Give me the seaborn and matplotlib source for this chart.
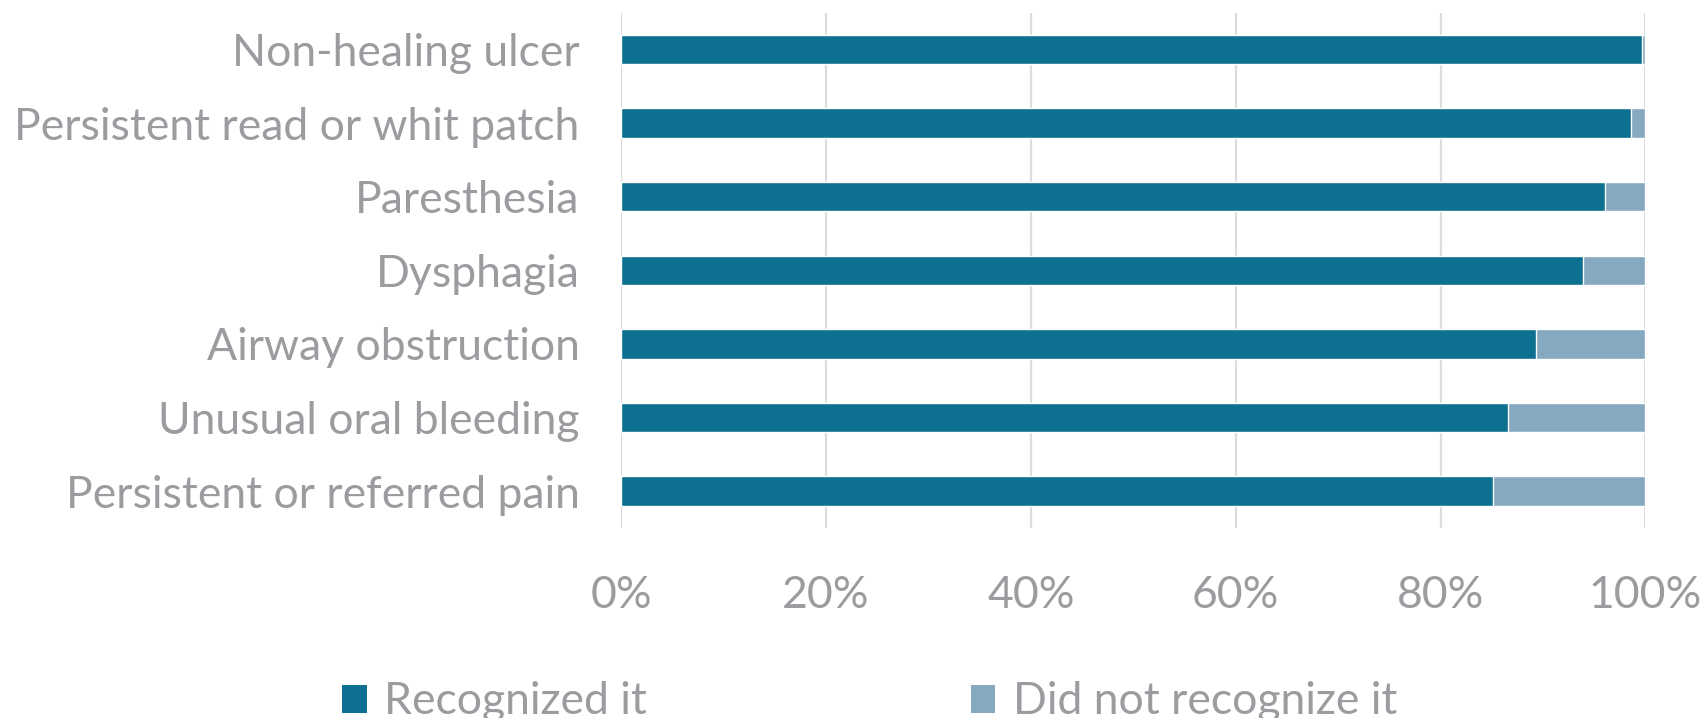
import matplotlib
matplotlib.use("Agg")
import matplotlib.pyplot as plt
from matplotlib.patches import Patch
from matplotlib.ticker import PercentFormatter
import pandas as pd
import seaborn as sns

categories = [
    "Non-healing ulcer",
    "Persistent read or whit patch",
    "Paresthesia",
    "Dysphagia",
    "Airway obstruction",
    "Unusual oral bleeding",
    "Persistent or referred pain",
]
recognized = [99.7, 98.6, 96.0, 93.9, 89.3, 86.6, 85.1]
not_recognized = [0.3, 1.4, 4.0, 6.1, 10.7, 13.4, 14.9]
x_ticks = [0, 20, 40, 60, 80, 100]
series_names = ["Recognized it", "Did not recognize it"]

DARK = "#0E7090"
LIGHT = "#86A9C1"
TEXT = "#9B9BA0"
GRID = "#DCDCDC"

sns.set_theme(style="white")
plt.rcParams["font.family"] = ["Lato", "DejaVu Sans"]
FS = 32

df = pd.DataFrame({
    "category": categories,
    "recognized": recognized,
    "stacked": [r + n for r, n in zip(recognized, not_recognized)],
})

fig = plt.figure(figsize=(17.02, 7.18), dpi=100)
ax = fig.add_axes([0.3649, 0.2646, 0.6019, 0.7177])

# stacked bars: full-length light bar underneath, recognized share on top
sns.barplot(data=df, x="stacked", y="category", orient="h", color=LIGHT,
            width=0.4, saturation=1, ax=ax, zorder=2)
sns.barplot(data=df, x="recognized", y="category", orient="h", color=DARK,
            width=0.4, saturation=1, ax=ax, zorder=3)

ax.set_xlim(0, 100)
ax.set_ylim(len(categories) - 0.5, -0.5)
ax.set_xticks(x_ticks)
ax.xaxis.set_major_formatter(PercentFormatter(decimals=0))
ax.set_xlabel("")
ax.set_ylabel("")
ax.grid(axis="x", color=GRID, linewidth=1.6, zorder=0)
ax.set_axisbelow(True)
for s in ax.spines.values():
    s.set_visible(False)
ax.tick_params(axis="both", length=0, labelsize=FS, labelcolor=TEXT)
ax.tick_params(axis="x", pad=34)
ax.tick_params(axis="y", pad=30)

handles = [Patch(facecolor=DARK, edgecolor="none"),
           Patch(facecolor=LIGHT, edgecolor="none")]
leg = fig.legend(handles, series_names, loc="upper left",
                 bbox_to_anchor=(0.201, 0.051), ncol=2, frameon=False,
                 fontsize=FS, handlelength=0.55, handleheight=0.6,
                 handletextpad=0.4, columnspacing=7.28, borderaxespad=0,
                 borderpad=0)
for t in leg.get_texts():
    t.set_color(TEXT)

fig.savefig("out.png", dpi=100, facecolor="white")
